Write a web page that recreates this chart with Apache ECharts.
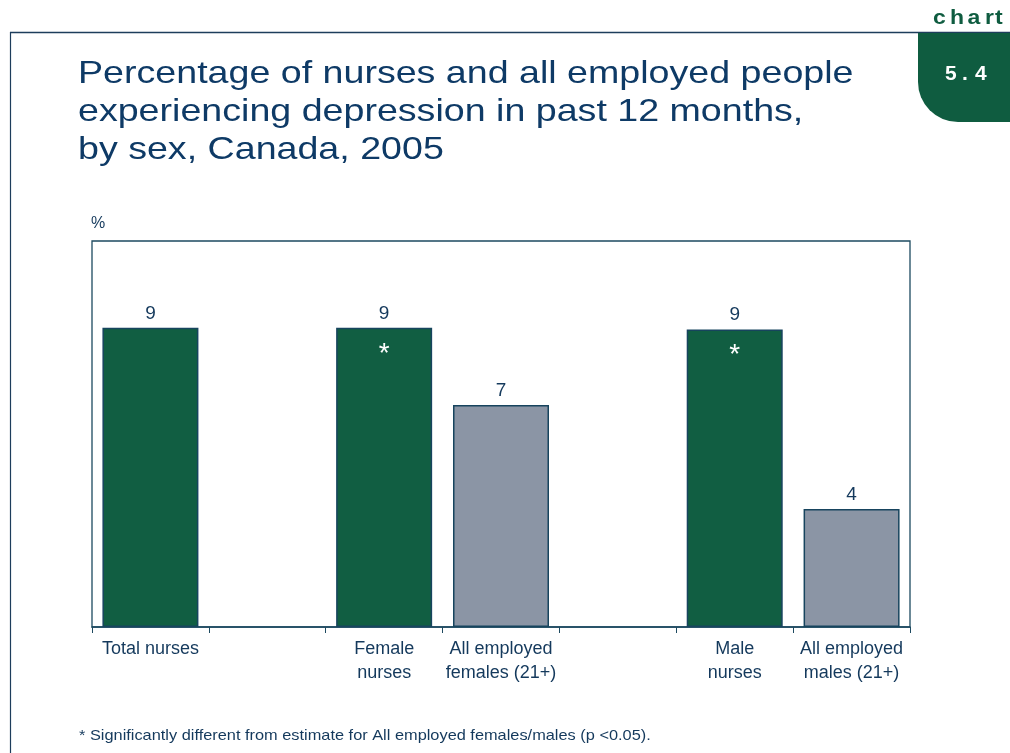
<!DOCTYPE html>
<html>
<head>
<meta charset="utf-8">
<script src="https://cdn.jsdelivr.net/npm/echarts@6/dist/echarts.min.js"></script>
<style>
html,body{margin:0;padding:0;background:#fff;}
#c{width:1010px;height:753px;}
</style>
</head>
<body>
<div id="c"></div>
<script>
const categories = ['Total nurses', '', 'Female\nnurses', 'All employed\nfemales (21+)', '', 'Male\nnurses', 'All employed\nmales (21+)'];
const values = [9.3, null, 9.3, 6.9, null, 9.25, 3.67];
const barKinds = ['nurse', null, 'nurse', 'all', null, 'nurse', 'all'];
const significant = [false, false, true, false, false, true, false];
const titleText = 'Percentage of nurses and all employed people\nexperiencing depression in past 12 months,\nby sex, Canada, 2005';
const footnote = '* Significantly different from estimate for All employed females/males (p <0.05).';

const GREEN = '#115e42';
const GREY = '#8b95a5';
const NAVY = '#17445e';
const TEXT = '#14395c';

const chart = echarts.init(document.getElementById('c'), null, {renderer: 'canvas'});

const barData = values.map((v, i) => ({
  value: v,
  itemStyle: {color: barKinds[i] === 'all' ? GREY : GREEN}
}));
const starData = values.map((v, i) => ({
  value: significant[i] ? v : null
}));

const tabFont = 'bold 20px "Liberation Sans", Arial, sans-serif';
const chartLetters = [['c', 933], ['h', 950], ['a', 967.5], ['r', 985], ['t', 995]];
const numLetters = [['5', 945], ['.', 962], ['4', 975]];

const graphics = [
  {type: 'line', shape: {x1: 10, y1: 32.5, x2: 1010, y2: 32.5}, style: {stroke: '#1d3d5c', lineWidth: 1.5}},
  {type: 'line', shape: {x1: 10.5, y1: 32, x2: 10.5, y2: 753}, style: {stroke: '#1d3d5c', lineWidth: 1.2}},
  {type: 'rect', shape: {x: 918, y: 33, width: 92, height: 89, r: [0, 0, 0, 40]}, style: {fill: '#0f5c40'}},
  {type: 'text', x: 78, y: 55, scaleX: 1.175, style: {text: titleText, font: '32px "Liberation Sans", Arial, sans-serif', fill: '#0e3a66', lineHeight: 38}},
  {type: 'text', x: 91, y: 216, style: {text: '%', font: '16px "Liberation Sans", sans-serif', fill: TEXT}},
  {type: 'text', x: 79, y: 728, scaleX: 1.09, style: {text: footnote, font: '15px "Liberation Sans", Arial, sans-serif', fill: '#14395c'}}
];
chartLetters.forEach(([ch, x]) => graphics.push({type: 'text', x: x, y: 8, scaleX: 1.15, style: {text: ch, font: tabFont, fill: '#0f5c40'}}));
numLetters.forEach(([ch, x]) => graphics.push({type: 'text', x: x, y: 64, scaleX: 1.05, style: {text: ch, font: tabFont, fill: '#ffffff'}}));

chart.setOption({
  animation: false,
  graphic: graphics,
  grid: {left: 92, right: 100, top: 241, bottom: 126, show: true, borderColor: '#1d4a60', borderWidth: 1.3, backgroundColor: 'transparent'},
  xAxis: {
    type: 'category',
    data: categories,
    boundaryGap: true,
    axisLine: {show: true, lineStyle: {color: '#1d4a60', width: 1.5}},
    axisTick: {show: true, length: 6, lineStyle: {color: '#1d4a60', width: 1}},
    axisLabel: {
      color: TEXT, fontSize: 18, fontFamily: '"Liberation Sans Narrow", "Arial Narrow", "Liberation Sans", sans-serif',
      lineHeight: 24, margin: 10, interval: 0
    },
    splitLine: {show: false}
  },
  yAxis: {
    type: 'value', min: 0, max: 12,
    axisLine: {show: false}, axisTick: {show: false}, axisLabel: {show: false}, splitLine: {show: false}
  },
  series: [
    {
      type: 'bar',
      data: barData,
      barWidth: 96,
      itemStyle: {borderColor: NAVY, borderWidth: 1.5},
      label: {
        show: true, position: 'top', distance: 5, color: TEXT, fontSize: 19,
        fontFamily: '"Liberation Sans Narrow", "Arial Narrow", "Liberation Sans", sans-serif',
        formatter: p => Math.round(p.value)
      }
    },
    {
      type: 'bar',
      data: starData,
      barWidth: 96,
      barGap: '-100%',
      itemStyle: {color: 'transparent', borderWidth: 0},
      label: {
        show: true, position: 'insideTop', distance: 12, color: '#ffffff', fontSize: 28,
        fontFamily: '"Liberation Sans", Arial, sans-serif',
        formatter: '*'
      },
      silent: true
    }
  ]
});
</script>
</body>
</html>
